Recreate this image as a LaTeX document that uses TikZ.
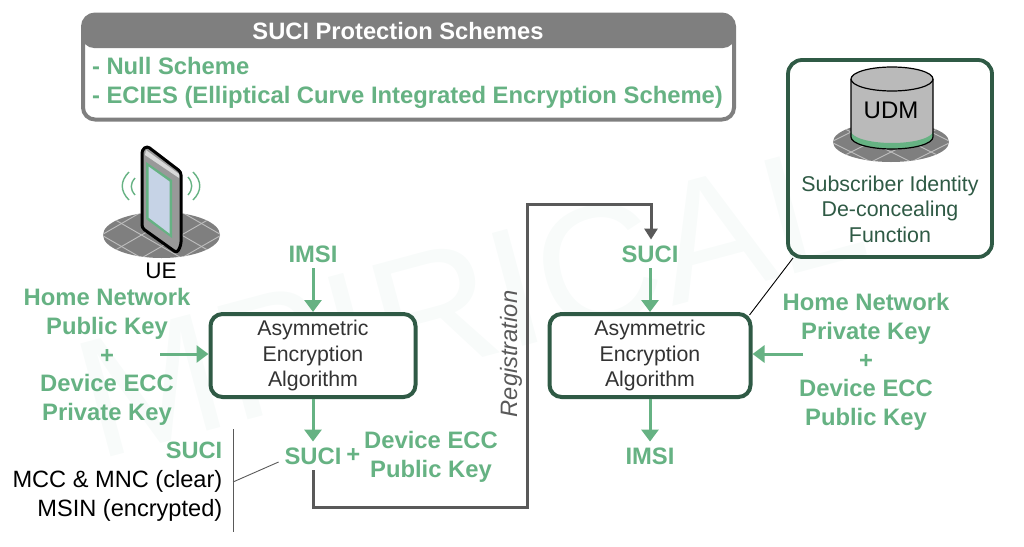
\documentclass[tikz,border=0pt]{standalone}
\usepackage{fontspec}
\setmainfont{Liberation Sans}
\usetikzlibrary{arrows.meta, positioning, calc}
\definecolor{keygreen}{HTML}{66B283}
\definecolor{boxgreen}{HTML}{2F5A45}
\definecolor{flowgray}{HTML}{595959}
\definecolor{framegray}{HTML}{7F7F7F}
\definecolor{platgray}{HTML}{7F7F7F}
\definecolor{screenblue}{HTML}{C6D3E6}
\definecolor{markgray}{HTML}{F8FBFA}
\tikzset{
    keytext/.style={text=keygreen, font=\fontsize{23.8}{28.6}\selectfont\bfseries, align=center, inner sep=0pt, outer sep=6pt},
    algobox/.style={draw=boxgreen, line width=4pt, rounded corners=12pt, fill=white, align=center, inner sep=0pt,
        minimum height=83pt, font=\fontsize{21.3}{25.5}\selectfont, text=black!80},
    plaintext/.style={font=\fontsize{23.6}{29}\selectfont, inner sep=0pt, align=right},
    keyarrow/.style={every edge/.style={draw=keygreen, line width=3pt, -{Triangle[length=12pt,width=17pt]}}},
    flowline/.style={draw=flowgray, line width=3pt},
    thinline/.style={draw=black!65, line width=0.9pt},
    gridline/.style={draw=black!25, line width=0.9pt}
}
\begin{document}
\begin{tikzpicture}[x=1pt, y=-1pt]
    \useasboundingbox (0,0) rectangle (1024,546);
    \node[rotate=15, text=markgray, font=\fontsize{170}{170}\selectfont] (mark) at (470,300) {MPIRICAL};

    % protection schemes
    \node[draw=framegray, line width=4pt, rounded corners=12pt, fill=white, minimum width=651pt, minimum height=105pt, inner sep=0pt] (schemes) at (408.5,67) {};
    \fill[framegray, rounded corners=12pt] (82,14) -- (82,48) -- (735,48) -- (735,14) -- cycle;
    \node[text=white, font=\fontsize{23.7}{26}\selectfont\bfseries, inner sep=0pt] (title) at (398,31) {SUCI Protection Schemes};
    \node[keytext, anchor=west, align=left, outer sep=0pt, font=\fontsize{23.8}{29}\selectfont\bfseries] (list) at (92,82.5) {- Null Scheme\\- ECIES (Elliptical Curve Integrated Encryption Scheme)};

    % UE
    \fill[platgray] (161.5,235) ellipse (58.5pt and 23pt);
    \begin{scope}
        \clip (161.5,235) ellipse (58.5pt and 23pt);
        \foreach \x in {-60,-20,20,60} {
            \draw[gridline] (161.5+\x-40,212) -- (161.5+\x+40,258);
            \draw[gridline] (161.5+\x+40,212) -- (161.5+\x-40,258);
        }
    \end{scope}
    \draw[line width=3pt, fill=black!40, rounded corners=3pt, line join=round] (142,150) -- (147,146) -- (181,172) -- (181,245) -- (177,253) -- (142,228) -- cycle;
    \fill[black!15] (146,150) -- (179,174) -- (179,178) -- (145,155) -- cycle;
    \fill[keygreen] (146,162) -- (172,180) -- (172,238) -- (146,219) -- cycle;
    \fill[screenblue] (148.5,166.5) -- (169.5,181.5) -- (169.5,233.5) -- (148.5,217.5) -- cycle;
    \draw[keygreen, line width=1.4pt]
        (129,172) .. controls (120,181) and (120,191) .. (129,200)
        (135,178) .. controls (130,184) and (130,189) .. (135,195)
        (193,172) .. controls (202,181) and (202,191) .. (193,200)
        (188,177) .. controls (193,183) and (193,189) .. (188,195);
    \node[font=\fontsize{22.5}{26}\selectfont, inner sep=0pt] (ue) at (161,270.5) {UE};

    % UDM
    \node[draw=boxgreen, line width=3.8pt, rounded corners=14pt, minimum width=204pt, minimum height=197pt, inner sep=0pt] (sidf) at (890,158.5) {};
    \fill[platgray] (891,142) ellipse (58pt and 20pt);
    \begin{scope}
        \clip (891,142) ellipse (58pt and 20pt);
        \foreach \x in {-60,-20,20,60} {
            \draw[gridline] (891+\x-40,122) -- (891+\x+40,162);
            \draw[gridline] (891+\x+40,122) -- (891+\x-40,162);
        }
    \end{scope}
    \fill[black!27] (851,79) -- (851,137) arc[start angle=180, end angle=360, x radius=41pt, y radius=12pt] -- (933,79) -- cycle;
    \fill[keygreen] (851,131) arc[start angle=180, end angle=360, x radius=41pt, y radius=12pt] -- (933,137) arc[start angle=360, end angle=180, x radius=41pt, y radius=12pt] -- cycle;
    \draw[line width=1.2pt, fill=black!27] (892,79) ellipse (41pt and 12pt);
    \draw[line width=1.2pt] (851,79) -- (851,137) arc[start angle=180, end angle=360, x radius=41pt, y radius=12pt] -- (933,79);
    \node[font=\fontsize{24}{28}\selectfont, inner sep=0pt] (udm) at (891,110) {UDM};
    \node[text=boxgreen, font=\fontsize{21.4}{25.5}\selectfont, align=center, inner sep=0pt] (sidftext) at (890,209) {Subscriber Identity\\De-concealing\\Function};

    % left side
    \node[algobox, minimum width=205pt] (encrypt) at (313,355.5) {Asymmetric\\Encryption\\Algorithm};
    \node[keytext] (imsiin) at (313,254) {IMSI};
    \node[keytext] (pubkeys) at (107,357) {Home Network\\Public Key\\+\\Device ECC\\Private Key};
    \node[keytext] (suciout) at (313,456) {SUCI};
    \node[keytext, right=-7pt of suciout] (plus) {+};
    \node[keytext] (ecckey) at (431,457) {Device ECC\\Public Key};
    \node[plaintext, anchor=east] (sucilist) at (222.5,482) {\textcolor{keygreen}{\bfseries SUCI}\\MCC \& MNC (clear)\\MSIN (encrypted)};
    \coordinate (bartop) at (233,429);
    \coordinate (barbottom) at (233,532);
    \coordinate (barjoin) at (233,482);
    \coordinate (pubstart) at (160,354);

    % right side
    \node[algobox, minimum width=201pt] (decrypt) at (650,355.5) {Asymmetric\\Encryption\\Algorithm};
    \node[keytext] (suciin) at (650,254) {SUCI};
    \node[keytext] (imsiout) at (650,456) {IMSI};
    \node[keytext] (privkeys) at (866,362) {Home Network\\Private Key\\+\\Device ECC\\Public Key};
    \coordinate (privstart) at (803,354);
    \coordinate (sidfjoin) at (793,258);
    \node[rotate=90, text=flowgray, font=\fontsize{23.7}{26}\selectfont\itshape, inner sep=0pt] (reg) at (511,354) {Registration};

    \path[keyarrow]
    (imsiin.south) edge (encrypt.north)
    (pubstart) edge (pubstart -| encrypt.west)
    (encrypt.south) edge (suciout.north)
    (suciin.south) edge (decrypt.north)
    (decrypt.south) edge (imsiout.north)
    (privstart) edge (privstart -| decrypt.east);

    \draw[flowline] (suciout.south) -- (313,507) -- (527,507) -- (527,204) -- (651,204) -- (651,218);
    \draw[flowline, -{Triangle[length=11pt,width=13pt]}] (651,218) -- (suciin.north -| 651,0);
    \draw[thinline] (bartop) -- (barbottom);
    \draw[thinline] (barjoin) -- ($(suciout.west)+(0,6)$);
    \draw[thinline, black] (decrypt.north east) ++(-3,3) -- (sidfjoin);
\end{tikzpicture}
\end{document}
